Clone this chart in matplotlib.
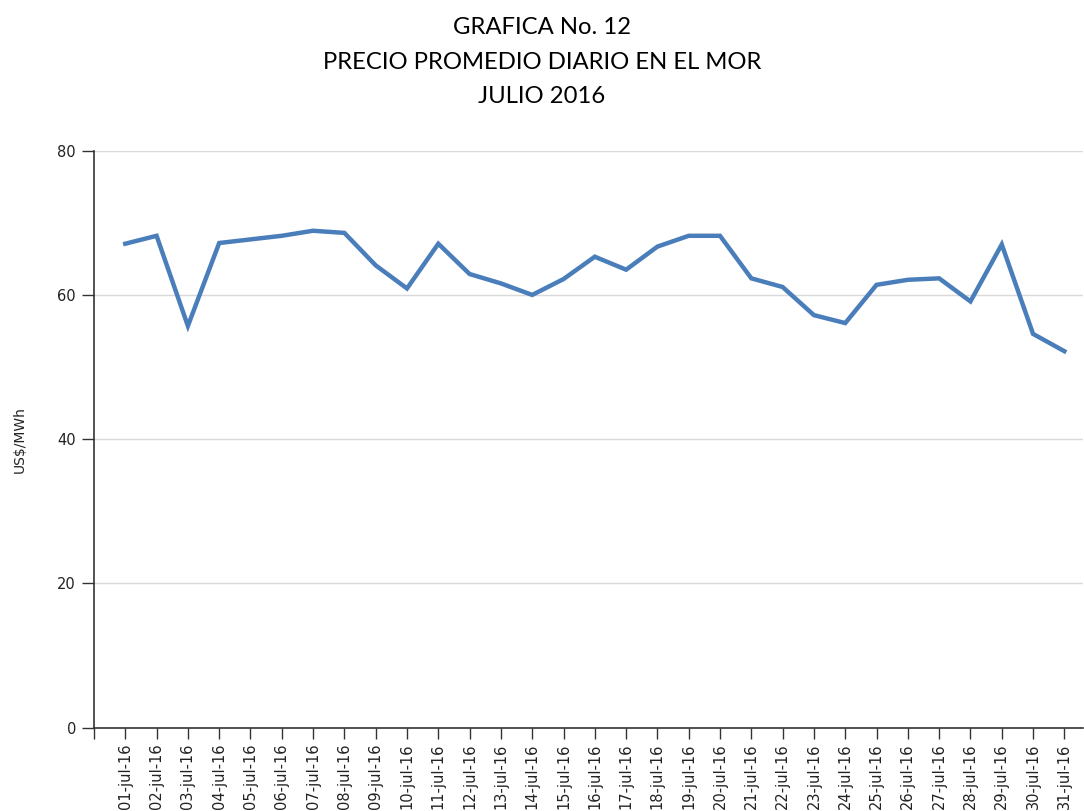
import matplotlib.pyplot as plt

# Precio promedio diario en el MOR, julio 2016 (US$/MWh)
dias = ['%02d-jul-16' % d for d in range(1, 32)]
precios = [67.1, 68.2, 55.7, 67.2, 67.7, 68.2, 68.9, 68.6, 64.1, 60.9,
           67.1, 62.9, 61.6, 60.0, 62.2, 65.3, 63.5, 66.7, 68.2, 68.2,
           62.3, 61.1, 57.2, 56.1, 61.4, 62.1, 62.3, 59.1, 67.0, 54.6,
           52.2]
titulo = 'GRAFICA No. 12\nPRECIO PROMEDIO DIARIO EN EL MOR\nJULIO 2016'

fig = plt.figure(figsize=(10.84, 8.11), dpi=100)
ax = fig.add_axes([0.0867, 0.1027, 0.9125, 0.7115])

x = list(range(len(dias)))
ax.plot(x, precios, color='#4a7ebb', linewidth=3.2, solid_joinstyle='miter')

ax.set_ylim(0, 80)
ax.set_xlim(-1, 30.6)
ax.set_yticks([0, 20, 40, 60, 80])
ax.set_xticks(x)
ax.set_xticklabels(dias, rotation=90, fontsize=10.5, color='#222222')
ax.set_xticks([-1], minor=True)
ax.tick_params(axis='x', which='both', length=8, width=1, color='#333333')
ax.tick_params(axis='y', length=9, width=1, color='#333333', labelsize=10.5,
               labelcolor='#222222', pad=4)

ax.grid(axis='y', color='#d9d9d9', linewidth=1)
ax.set_axisbelow(True)
for s in ['top', 'right']:
    ax.spines[s].set_visible(False)
for s in ['left', 'bottom']:
    ax.spines[s].set_color('#333333')
    ax.spines[s].set_linewidth(1.2)

ax.set_ylabel('US$/MWh', fontsize=10, color='#222222', labelpad=22)

fig.text(0.5, 0.979, titulo, ha='center', va='top', fontsize=17.2,
         family='Lato', linespacing=1.8)

plt.savefig('out.png')
